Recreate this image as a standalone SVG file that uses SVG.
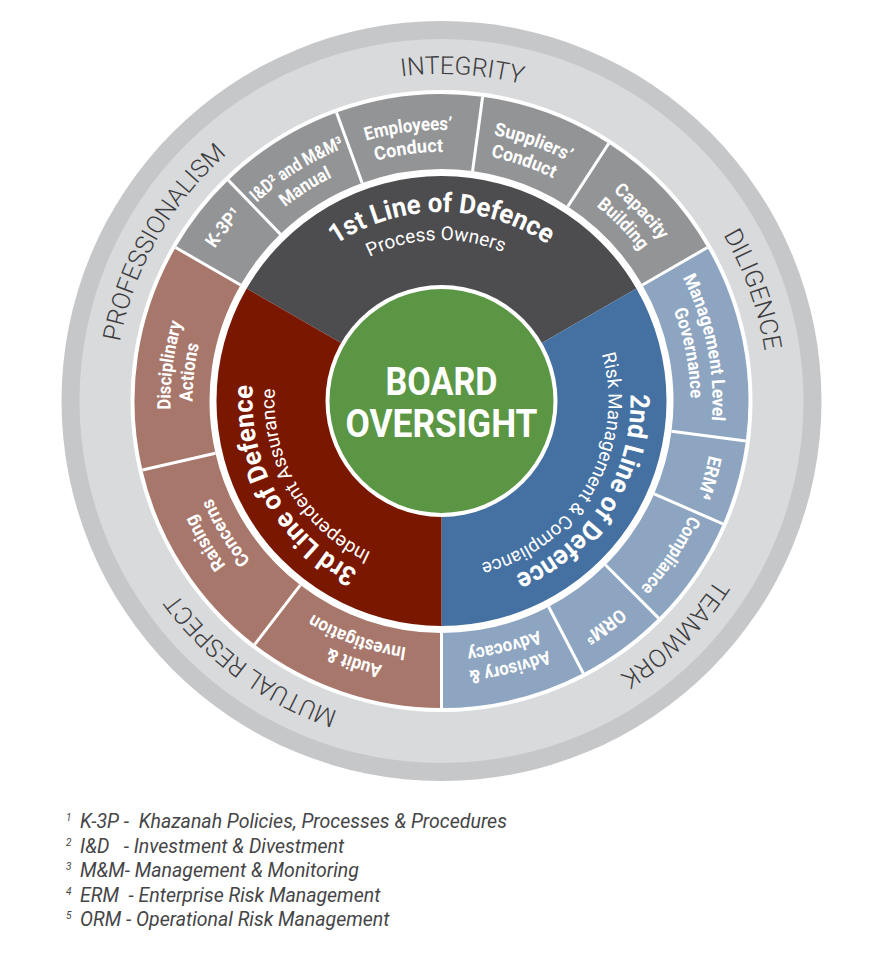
<svg xmlns="http://www.w3.org/2000/svg" width="882" height="968" viewBox="0 0 882 968">
<defs>
<path id="r327" d="M441.5,728 A327,327 0 1 1 441.5,74 A327,327 0 1 1 441.5,728"/>
<path id="r273" d="M441.5,674 A273,273 0 1 1 441.5,128 A273,273 0 1 1 441.5,674"/>
<path id="r271" d="M441.5,672 A271,271 0 1 1 441.5,130 A271,271 0 1 1 441.5,672"/>
<path id="r249" d="M441.5,650 A249,249 0 1 1 441.5,152 A249,249 0 1 1 441.5,650"/>
<path id="r189" d="M441.5,590 A189,189 0 1 1 441.5,212 A189,189 0 1 1 441.5,590"/>
<path id="r167" d="M441.5,568 A167,167 0 1 1 441.5,234 A167,167 0 1 1 441.5,568"/>
<path id="r161" d="M441.5,562 A161,161 0 1 1 441.5,240 A161,161 0 1 1 441.5,562"/>
</defs>
<style>
.val{font-family:Roboto,"Liberation Sans",sans-serif;font-weight:300;font-size:25px;fill:#3d3d3f}
.seg{font-family:Roboto,"Liberation Sans",sans-serif;font-weight:700;font-size:18.5px;fill:#fff}
.ttl{font-family:Roboto,"Liberation Sans",sans-serif;font-weight:700;font-size:27px;fill:#fff}
.sub{font-family:Roboto,"Liberation Sans",sans-serif;font-weight:400;font-size:19px;fill:#fff}
.board{font-family:Roboto,"Liberation Sans",sans-serif;font-weight:700;font-size:38px;fill:#fff}
.fn{font-family:Roboto,"Liberation Sans",sans-serif;font-style:italic;font-size:19.5px;fill:#454547}
.fs{font-size:10px}
.g1{fill:#939496}
.g2{fill:#8da5c0}
.g3{fill:#a7776c}
.sep{stroke:#fff;stroke-width:3;fill:none}
</style>
<rect width="882" height="968" fill="#fff"/>

<g id="values-ring">
<circle cx="441.5" cy="401" r="380" fill="#c6c7c9"/>
<circle cx="441.5" cy="401" r="362" fill="#d9dadb"/>
<circle cx="441.5" cy="401" r="311" fill="#fff"/>
<text class="val" text-anchor="middle"><textPath href="#r327" startOffset="51%" textLength="122" lengthAdjust="spacingAndGlyphs">INTEGRITY</textPath></text>
<text class="val" text-anchor="middle"><textPath href="#r327" startOffset="69.53%" textLength="124" lengthAdjust="spacingAndGlyphs">DILIGENCE</textPath></text>
<text class="val" text-anchor="middle"><textPath href="#r327" startOffset="87.5%" textLength="137" lengthAdjust="spacingAndGlyphs">TEAMWORK</textPath></text>
<text class="val" text-anchor="middle"><textPath href="#r327" startOffset="10.08%" textLength="203" lengthAdjust="spacingAndGlyphs">MUTUAL RESPECT</textPath></text>
<text class="val" text-anchor="middle"><textPath href="#r327" startOffset="33.25%" textLength="220" lengthAdjust="spacingAndGlyphs">PROFESSIONALISM</textPath></text>
</g>

<g id="seg-k3p">
<path class="g1" d="M175.63,247.5 A307,307 0 0 1 228.24,180.16 L280.34,234.11 A232,232 0 0 0 240.58,285 Z"/>
<text class="seg" text-anchor="middle"><textPath href="#r273" startOffset="35.69%" textLength="44" lengthAdjust="spacingAndGlyphs">K-3P¹</textPath></text>
</g>
<g id="seg-manual">
<path class="g1" d="M228.24,180.16 A307,307 0 0 1 336.5,112.51 L362.15,182.99 A232,232 0 0 0 280.34,234.11 Z"/>
<text class="seg" text-anchor="middle"><textPath href="#r271" startOffset="41.11%" textLength="104" lengthAdjust="spacingAndGlyphs">I&amp;D² and M&amp;M³</textPath></text>
<text class="seg" text-anchor="middle"><textPath href="#r249" startOffset="40.97%" textLength="56" lengthAdjust="spacingAndGlyphs">Manual</textPath></text>
</g>
<g id="seg-employees">
<path class="g1" d="M336.5,112.51 A307,307 0 0 1 482.63,96.77 L472.58,171.09 A232,232 0 0 0 362.15,182.99 Z"/>
<text class="seg" text-anchor="middle"><textPath href="#r271" startOffset="48.06%" textLength="87" lengthAdjust="spacingAndGlyphs">Employees’</textPath></text>
<text class="seg" text-anchor="middle"><textPath href="#r249" startOffset="47.92%" textLength="68" lengthAdjust="spacingAndGlyphs">Conduct</textPath></text>
</g>
<g id="seg-suppliers">
<path class="g1" d="M482.63,96.77 A307,307 0 0 1 608.7,143.53 L567.86,206.43 A232,232 0 0 0 472.58,171.09 Z"/>
<text class="seg" text-anchor="middle"><textPath href="#r271" startOffset="55.42%" textLength="80" lengthAdjust="spacingAndGlyphs">Suppliers’</textPath></text>
<text class="seg" text-anchor="middle"><textPath href="#r249" startOffset="55.28%" textLength="66" lengthAdjust="spacingAndGlyphs">Conduct</textPath></text>
</g>
<g id="seg-capacity">
<path class="g1" d="M608.7,143.53 A307,307 0 0 1 707.37,247.5 L642.42,285 A232,232 0 0 0 567.86,206.43 Z"/>
<text class="seg" text-anchor="middle"><textPath href="#r271" startOffset="62.92%" textLength="68" lengthAdjust="spacingAndGlyphs">Capacity</textPath></text>
<text class="seg" text-anchor="middle"><textPath href="#r249" startOffset="62.69%" textLength="63" lengthAdjust="spacingAndGlyphs">Building</textPath></text>
</g>

<g id="seg-mgmt">
<path class="g2" d="M707.37,247.5 A307,307 0 0 1 745.87,441.07 L671.52,431.28 A232,232 0 0 0 642.42,285 Z"/>
<text class="seg" text-anchor="middle"><textPath href="#r271" startOffset="71.81%" textLength="148" lengthAdjust="spacingAndGlyphs">Management Level</textPath></text>
<text class="seg" text-anchor="middle"><textPath href="#r249" startOffset="71.94%" textLength="90" lengthAdjust="spacingAndGlyphs">Governance</textPath></text>
</g>
<g id="seg-erm">
<path class="g2" d="M745.87,441.07 A307,307 0 0 1 722.82,523.91 L654.1,493.88 A232,232 0 0 0 671.52,431.28 Z"/>
<text class="seg" text-anchor="middle"><textPath href="#r273" startOffset="79.44%" textLength="43" lengthAdjust="spacingAndGlyphs">ERM⁴</textPath></text>
</g>
<g id="seg-compliance">
<path class="g2" d="M722.82,523.91 A307,307 0 0 1 658.58,618.08 L605.55,565.05 A232,232 0 0 0 654.1,493.88 Z"/>
<text class="seg" text-anchor="middle"><textPath href="#r273" startOffset="84.44%" textLength="88" lengthAdjust="spacingAndGlyphs">Compliance</textPath></text>
</g>
<g id="seg-orm">
<path class="g2" d="M658.58,618.08 A307,307 0 0 1 583.26,673.31 L548.63,606.79 A232,232 0 0 0 605.55,565.05 Z"/>
<text class="seg" text-anchor="middle"><textPath href="#r273" startOffset="90%" textLength="45" lengthAdjust="spacingAndGlyphs">ORM⁵</textPath></text>
</g>
<g id="seg-advisory">
<path class="g2" d="M583.26,673.31 A307,307 0 0 1 441.5,708 L441.5,633 A232,232 0 0 0 548.63,606.79 Z"/>
<text class="seg" text-anchor="middle"><textPath href="#r271" startOffset="96%" textLength="82" lengthAdjust="spacingAndGlyphs">Advisory &amp;</textPath></text>
<text class="seg" text-anchor="middle"><textPath href="#r249" startOffset="96%" textLength="74" lengthAdjust="spacingAndGlyphs">Advocacy</textPath></text>
</g>

<g id="seg-audit">
<path class="g3" d="M441.5,708 A307,307 0 0 1 254.61,644.56 L300.27,585.06 A232,232 0 0 0 441.5,633 Z"/>
<text class="seg" text-anchor="middle"><textPath href="#r271" startOffset="5.14%" textLength="56" lengthAdjust="spacingAndGlyphs">Audit &amp;</textPath></text>
<text class="seg" text-anchor="middle"><textPath href="#r249" startOffset="5.44%" textLength="100" lengthAdjust="spacingAndGlyphs">Investigation</textPath></text>
</g>
<g id="seg-raising">
<path class="g3" d="M254.61,644.56 A307,307 0 0 1 142.37,470.06 L215.45,453.19 A232,232 0 0 0 300.27,585.06 Z"/>
<text class="seg" text-anchor="middle"><textPath href="#r271" startOffset="16.39%" textLength="60" lengthAdjust="spacingAndGlyphs">Raising</textPath></text>
<text class="seg" text-anchor="middle"><textPath href="#r249" startOffset="16.28%" textLength="74" lengthAdjust="spacingAndGlyphs">Concerns</textPath></text>
</g>
<g id="seg-disciplinary">
<path class="g3" d="M142.37,470.06 A307,307 0 0 1 175.63,247.5 L240.58,285 A232,232 0 0 0 215.45,453.19 Z"/>
<text class="seg" text-anchor="middle"><textPath href="#r271" startOffset="27.08%" textLength="88" lengthAdjust="spacingAndGlyphs">Disciplinary</textPath></text>
<text class="seg" text-anchor="middle"><textPath href="#r249" startOffset="26.81%" textLength="58" lengthAdjust="spacingAndGlyphs">Actions</textPath></text>
</g>

<g id="separators" class="sep">
<line x1="240.58" y1="285" x2="175.63" y2="247.5"/>
<line x1="280.34" y1="234.11" x2="228.24" y2="180.16"/>
<line x1="362.15" y1="182.99" x2="336.5" y2="112.51"/>
<line x1="472.58" y1="171.09" x2="482.63" y2="96.77"/>
<line x1="567.86" y1="206.43" x2="608.7" y2="143.53"/>
<line x1="642.42" y1="285" x2="707.37" y2="247.5"/>
<line x1="671.52" y1="431.28" x2="745.87" y2="441.07"/>
<line x1="654.1" y1="493.88" x2="722.82" y2="523.91"/>
<line x1="605.55" y1="565.05" x2="658.58" y2="618.08"/>
<line x1="548.63" y1="606.79" x2="583.26" y2="673.31"/>
<line x1="441.5" y1="633" x2="441.5" y2="708"/>
<line x1="300.27" y1="585.06" x2="254.61" y2="644.56"/>
<line x1="215.45" y1="453.19" x2="142.37" y2="470.06"/>
</g>

<g id="line1">
<path fill="#4d4d4f" d="M441.5,401 L246.64,288.5 A225,225 0 0 1 636.36,288.5 Z"/>
<text class="ttl" text-anchor="middle"><textPath href="#r189" startOffset="50%" textLength="225" lengthAdjust="spacingAndGlyphs">1st Line of Defence</textPath></text>
<text class="sub" text-anchor="middle"><textPath href="#r161" startOffset="49.44%" textLength="138" lengthAdjust="spacingAndGlyphs">Process Owners</textPath></text>
</g>
<g id="line2">
<path fill="#4471a2" d="M441.5,401 L636.36,288.5 A225,225 0 0 1 441.5,626 Z"/>
<text class="ttl" text-anchor="middle"><textPath href="#r189" startOffset="84.03%" textLength="228" lengthAdjust="spacingAndGlyphs">2nd Line of Defence</textPath></text>
<text class="sub" text-anchor="middle"><textPath href="#r167" startOffset="83.33%" textLength="270" lengthAdjust="spacingAndGlyphs">Risk Management &amp; Compliance</textPath></text>
</g>
<g id="line3">
<path fill="#7a1700" d="M441.5,401 L441.5,626 A225,225 0 0 1 246.64,288.5 Z"/>
<text class="ttl" text-anchor="middle"><textPath href="#r189" startOffset="16.81%" textLength="226" lengthAdjust="spacingAndGlyphs">3rd Line of Defence</textPath></text>
<text class="sub" text-anchor="middle"><textPath href="#r167" startOffset="16.53%" textLength="202" lengthAdjust="spacingAndGlyphs">Independent Assurance</textPath></text>
</g>

<g id="board-oversight">
<circle cx="441.5" cy="401" r="116" fill="#fff"/>
<circle cx="441.5" cy="401" r="112" fill="#5b9644"/>
<text class="board" x="441.5" y="395" text-anchor="middle" textLength="112" lengthAdjust="spacingAndGlyphs">BOARD</text>
<text class="board" x="441.5" y="437" text-anchor="middle" textLength="192" lengthAdjust="spacingAndGlyphs">OVERSIGHT</text>
</g>

<g id="footnotes">
<text class="fn" xml:space="preserve"><tspan class="fs" x="66" y="821">1</tspan><tspan x="80" y="828">K-3P -  Khazanah Policies, Processes &amp; Procedures</tspan></text>
<text class="fn" xml:space="preserve"><tspan class="fs" x="66" y="845.5">2</tspan><tspan x="80" y="852.5">I&amp;D   - Investment &amp; Divestment</tspan></text>
<text class="fn" xml:space="preserve"><tspan class="fs" x="66" y="870">3</tspan><tspan x="80" y="877">M&amp;M- Management &amp; Monitoring</tspan></text>
<text class="fn" xml:space="preserve"><tspan class="fs" x="66" y="894.5">4</tspan><tspan x="80" y="901.5">ERM  - Enterprise Risk Management</tspan></text>
<text class="fn" xml:space="preserve"><tspan class="fs" x="66" y="919">5</tspan><tspan x="80" y="926">ORM - Operational Risk Management</tspan></text>
</g>
</svg>
